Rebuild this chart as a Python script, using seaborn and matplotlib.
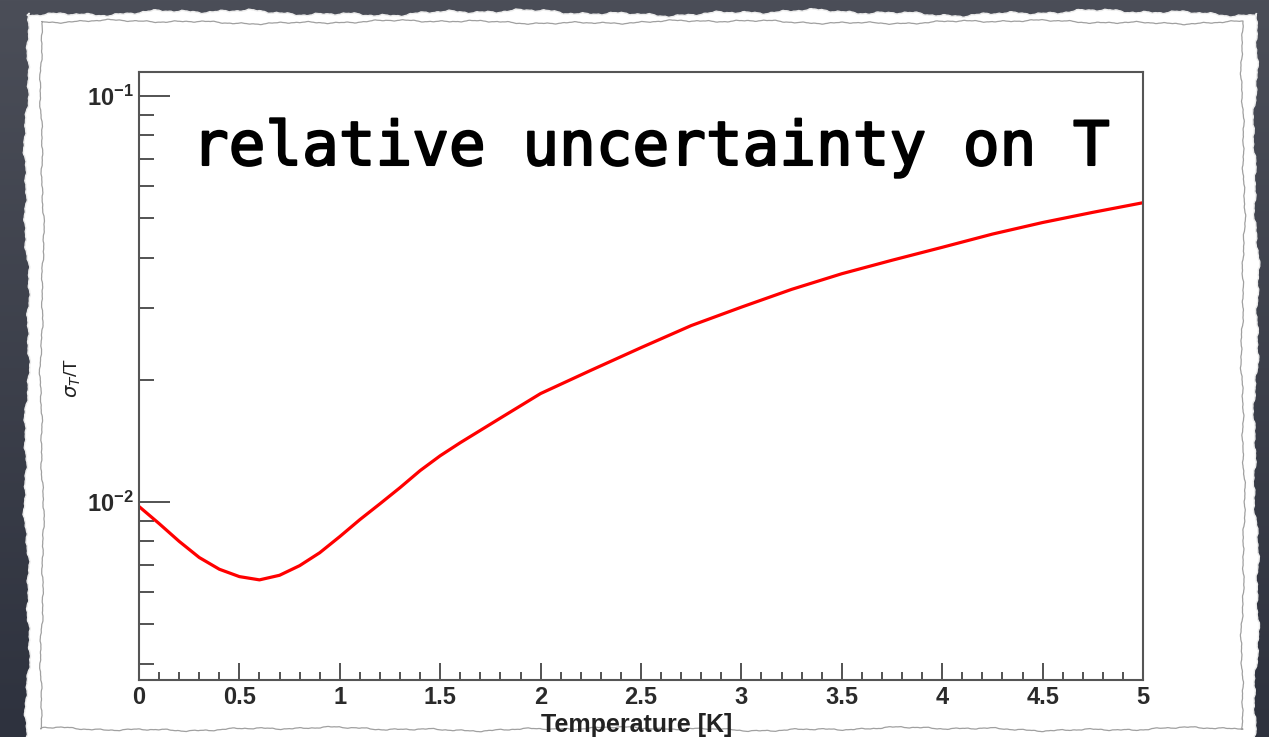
import numpy as np
import matplotlib
matplotlib.use("Agg")
import matplotlib.pyplot as plt
import matplotlib.ticker as mticker
import matplotlib.patheffects as pe
from matplotlib.colors import LinearSegmentedColormap
from matplotlib.patches import Polygon
import seaborn as sns

# Relative uncertainty on the fitted temperature, sigma_T / T
temperature_K = [0.0, 0.1, 0.2, 0.3, 0.4, 0.5, 0.6, 0.7, 0.8, 0.9, 1.0,
                 1.1, 1.2, 1.3, 1.4, 1.5, 1.6, 1.8, 2.0, 2.25, 2.5, 2.75,
                 3.0, 3.25, 3.5, 3.75, 4.0, 4.25, 4.5, 4.75, 5.0]
rel_uncertainty = [0.00975, 0.00885, 0.00800, 0.00730, 0.00683, 0.00655,
                   0.00643, 0.00660, 0.00697, 0.00750, 0.00822, 0.00905,
                   0.00990, 0.01085, 0.01195, 0.01300, 0.01400, 0.01610,
                   0.01850, 0.02110, 0.02400, 0.02720, 0.03020, 0.03340,
                   0.03650, 0.03940, 0.04240, 0.04570, 0.04880, 0.05170,
                   0.05460]
x_tick_values = [0, 0.5, 1, 1.5, 2, 2.5, 3, 3.5, 4, 4.5, 5]
x_tick_labels = ["0", "0.5", "1", "1.5", "2", "2.5", "3", "3.5", "4", "4.5", "5"]

sns.set_theme(style="ticks")
plt.rcParams["font.family"] = ["Liberation Sans", "DejaVu Sans"]
plt.rcParams["axes.unicode_minus"] = False

W, H = 1269, 737
fig = plt.figure(figsize=(W / 100, H / 100), dpi=100)

# backdrop: dark slate with a soft vertical gradient
bg = fig.add_axes([0, 0, 1, 1], zorder=0)
bg.set_xlim(0, W)
bg.set_ylim(H, 0)
bg.axis("off")
grad = np.linspace(0, 1, 256)[:, None]
bg.imshow(grad, extent=[0, W, H, 0], aspect="auto",
          cmap=LinearSegmentedColormap.from_list("slate", ["#4b4e58", "#2e323e"]))


def ragged(t, phase, amp):
    # irregular but smooth wobble, t in pixels
    return amp * (0.50 * np.sin(t * 0.021 + phase) + 0.30 * np.sin(t * 0.067 + 1.7 * phase)
                  + 0.20 * np.sin(t * 0.19 + 0.4 + phase) + 0.12 * np.sin(t * 0.47 + 2 * phase)
                  + 0.06 * np.sin(t * 1.13 + phase))


def torn_outline(left, right, top, bottom, amp, phase):
    xs_top = np.linspace(left, right, 700)
    ys_side = np.linspace(top, bottom, 420)
    top_edge = np.column_stack([xs_top, top + ragged(xs_top, phase, amp)])
    right_edge = np.column_stack([right + ragged(ys_side, phase + 1.3, amp), ys_side])
    bottom_edge = np.column_stack([xs_top[::-1], bottom + ragged(xs_top[::-1], phase + 2.1, amp)])
    left_edge = np.column_stack([left + ragged(ys_side[::-1], phase + 0.7, amp), ys_side[::-1]])
    return np.vstack([top_edge, right_edge, bottom_edge, left_edge])


paper = Polygon(torn_outline(27, 1256, 13, 745, 4.0, 0.3), closed=True,
                facecolor="white", edgecolor="#ececec", linewidth=1.0)
bg.add_patch(paper)
inner = torn_outline(42, 1243, 22, 729, 2.5, 2.2)
bg.plot(np.append(inner[:, 0], inner[0, 0]), np.append(inner[:, 1], inner[0, 1]),
        color="#a0a0a0", linewidth=0.9)

# the plot itself
ax = fig.add_axes([139 / W, 1 - 680 / H, 1004 / W, 608 / H], zorder=2)
ax.set_facecolor("white")
sns.lineplot(x=temperature_K, y=rel_uncertainty, ax=ax, color="#ff0000", linewidth=2.3)
ax.set_yscale("log")
ax.set_xlim(0, 5)
ax.set_ylim(0.003644, 0.1146)

for side in ["left", "right", "top", "bottom"]:
    ax.spines[side].set_visible(True)
    ax.spines[side].set_color("#555555")
    ax.spines[side].set_linewidth(1.5)

ax.xaxis.set_major_locator(mticker.FixedLocator(x_tick_values))
ax.xaxis.set_major_formatter(mticker.FixedFormatter(x_tick_labels))
ax.xaxis.set_minor_locator(mticker.MultipleLocator(0.1))
ax.yaxis.set_major_locator(mticker.LogLocator(base=10))
ax.yaxis.set_minor_locator(mticker.LogLocator(base=10, subs=np.arange(2, 10)))
ax.yaxis.set_minor_formatter(mticker.NullFormatter())

ax.tick_params(axis="y", which="major", direction="in", length=22.3, width=1.3,
               color="#444444", left=True, right=False, labelsize=17,
               labelcolor="#2a2a2a", pad=4)
ax.tick_params(axis="y", which="minor", direction="in", length=10.8, width=1.3,
               color="#444444", left=True, right=False)
ax.tick_params(axis="x", which="major", direction="in", length=12.2, width=1.3,
               color="#444444", bottom=True, top=False, labelsize=17,
               labelcolor="#2a2a2a", pad=4)
ax.tick_params(axis="x", which="minor", direction="in", length=5.8, width=1.3,
               color="#444444", bottom=True, top=False)
for lbl in ax.get_xticklabels() + ax.get_yticklabels():
    lbl.set_fontweight("semibold")

ax.set_xlabel("Temperature [K]", fontsize=18, fontweight="bold", color="#222222")
ax.xaxis.set_label_coords(0.496, -0.054)
ax.set_ylabel(r"$\sigma_{T}$/T", fontsize=14, color="#222222")
ax.yaxis.set_label_coords(-0.056, 0.497)

fig.text(192 / W, 1 - 165 / H, "relative uncertainty on T",
         fontfamily="DejaVu Sans Mono", fontsize=43.9, color="black",
         ha="left", va="baseline", zorder=5,
         path_effects=[pe.withStroke(linewidth=1.5, foreground="black")])

fig.savefig("out.png", dpi=100, facecolor=fig.get_facecolor())
